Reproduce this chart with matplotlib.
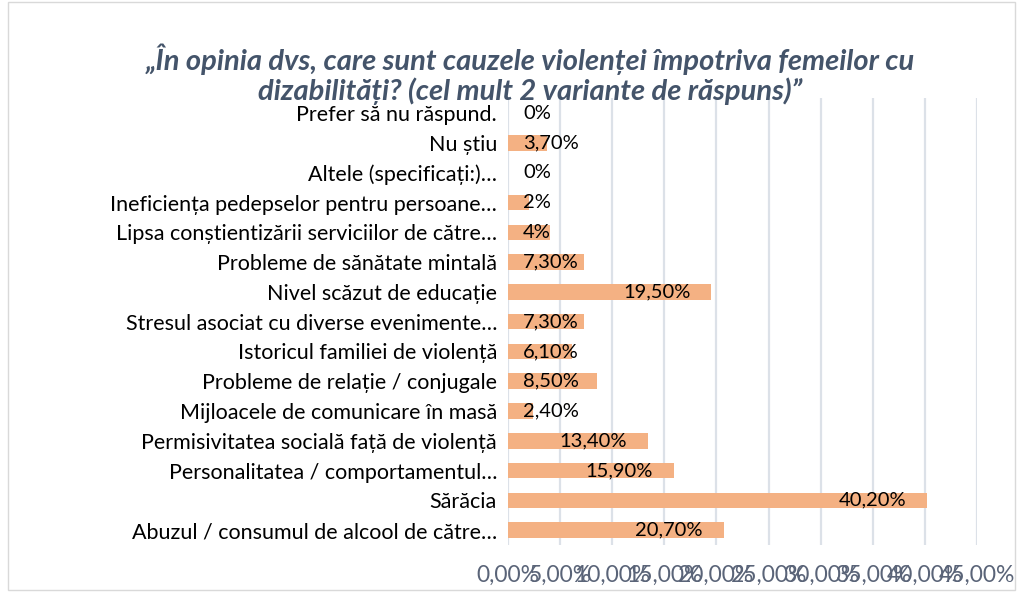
import numpy as np
import matplotlib.pyplot as plt
from matplotlib.patches import Rectangle

# categories bottom -> top, as drawn
categories = [
    "Abuzul / consumul de alcool de către…",
    "Sărăcia",
    "Personalitatea / comportamentul…",
    "Permisivitatea socială față de violență",
    "Mijloacele de comunicare în masă",
    "Probleme de relație / conjugale",
    "Istoricul familiei de violență",
    "Stresul asociat cu diverse evenimente…",
    "Nivel scăzut de educație",
    "Probleme de sănătate mintală",
    "Lipsa conștientizării serviciilor de către…",
    "Ineficiența pedepselor pentru persoane…",
    "Altele (specificați:)…",
    "Nu știu",
    "Prefer să nu răspund.",
]
values = [20.7, 40.2, 15.9, 13.4, 2.4, 8.5, 6.1, 7.3, 19.5, 7.3, 4.0, 2.0, 0.0, 3.7, 0.0]
value_labels = ["20,70%", "40,20%", "15,90%", "13,40%", "2,40%", "8,50%", "6,10%",
                "7,30%", "19,50%", "7,30%", "4%", "2%", "0%", "3,70%", "0%"]
ticks = [0, 5, 10, 15, 20, 25, 30, 35, 40, 45]
tick_labels = ["0,00%", "5,00%", "10,00%", "15,00%", "20,00%", "25,00%",
               "30,00%", "35,00%", "40,00%", "45,00%"]

title = "„În opinia dvs, care sunt cauzele violenței împotriva femeilor cu\ndizabilități? (cel mult 2 variante de răspuns)”"

plt.rcParams['font.family'] = ['Lato', 'DejaVu Sans']

fig = plt.figure(figsize=(10.17, 5.92), dpi=100)
fig.patches.append(Rectangle((0.008, 0.003), 0.99, 0.994, transform=fig.transFigure,
                             fill=False, edgecolor='#D9D9D9', linewidth=1))
ax = fig.add_axes([0.4995, 0.0794, 0.4612, 0.7546])

y = np.arange(len(categories))
ax.barh(y, values, height=0.52, color='#F4B183', zorder=3)
ax.set_xlim(0, 45)
ax.set_ylim(-0.5, len(categories) - 0.5)
ax.set_xticks(ticks)
ax.set_xticklabels(tick_labels, fontsize=16.5, color='#5A6478')
ax.set_yticks(y)
ax.set_yticklabels(categories, fontsize=15.5, color='black')
ax.tick_params(axis='x', length=0, pad=14)
ax.tick_params(axis='y', length=0, pad=8)
ax.grid(axis='x', color='#DCE1E8', linewidth=1.6, zorder=0)
for s in ax.spines.values():
    s.set_visible(False)

for yi, v, lab in zip(y, values, value_labels):
    if v - 2.0 - len(lab) * 1.15 > 1.45:
        ax.text(v - 2.0, yi, lab, ha='right', va='center', fontsize=14.5, zorder=4)
    else:
        ax.text(1.45, yi, lab, ha='left', va='center', fontsize=14.5, zorder=4)

fig.text(0.521, 0.875, title, ha='center', va='center', fontsize=21, fontweight='bold',
         fontstyle='italic', color='#44546A', linespacing=1.1)

fig.savefig('out.png', dpi=100)
